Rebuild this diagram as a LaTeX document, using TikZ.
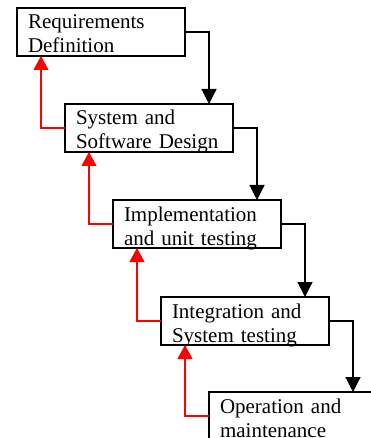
\documentclass[tikz,border=0pt]{standalone}
\usepackage{fontspec}
\setmainfont{Liberation Serif}
\usetikzlibrary{arrows.meta}
\begin{document}
\begin{tikzpicture}[x=1pt,y=-1pt,
  phase/.style={draw, line width=1.4pt, rectangle, anchor=north west,
    outer sep=0pt, inner xsep=11pt, inner ysep=0pt,
    text width=146pt, align=left, minimum height=48pt,
    text height=21pt, text depth=27pt,
    font=\fontsize{21}{24}\selectfont},
  forward/.style={draw=black, line width=1.2pt,
    -{Triangle[width=15pt,length=15pt]}},
  feedback/.style={draw=red, line width=1.2pt,
    -{Triangle[width=15pt,length=14pt]}}]
  \useasboundingbox (0,0) rectangle (371,438);
  \clip (0,0) rectangle (371,438);

  % the five phases, stepping down to the right
  \node[phase] (req)  at (17,8)    {Requirements\\Definition};
  \node[phase] (des)  at (65,104)  {System and\\Software Design};
  \node[phase] (impl) at (113,200) {Implementation\\and unit testing};
  \node[phase] (integ) at (161,297) {Integration and\\System testing};
  \node[phase] (ops)  at (209,392) {Operation and\\maintenance};

  % forward flow into the next phase
  \draw[forward] (req.east)   -| ([xshift=-24pt]des.north east);
  \draw[forward] (des.east)   -| ([xshift=-24pt]impl.north east);
  \draw[forward] (impl.east)  -| ([xshift=-24pt]integ.north east);
  \draw[forward] (integ.east) -| ([xshift=-24pt]ops.north east);

  % feedback to the previous phase
  \draw[feedback] (des.west)   -| ([xshift=24pt]req.south west);
  \draw[feedback] (impl.west)  -| ([xshift=24pt]des.south west);
  \draw[feedback] (integ.west) -| ([xshift=24pt]impl.south west);
  \draw[feedback] (ops.west)   -| ([xshift=24pt]integ.south west);
\end{tikzpicture}
\end{document}
